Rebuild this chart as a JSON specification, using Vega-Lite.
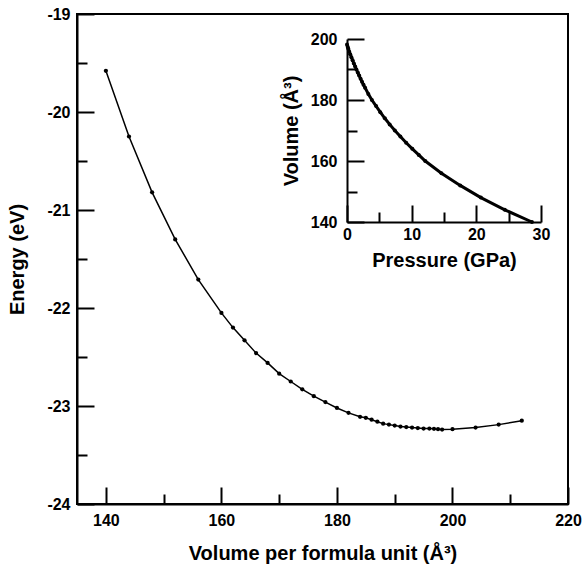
{
  "$schema": "https://vega.github.io/schema/vega-lite/v6.json",
  "width": 491,
  "height": 490,
  "autosize": "none",
  "padding": {"left": 77, "top": 14, "right": 16, "bottom": 62},
  "background": "white",
  "config": {
    "view": {"stroke": "black", "strokeWidth": 2},
    "font": "Liberation Sans",
    "axis": {
      "domainColor": "black", "domainWidth": 2,
      "tickColor": "black", "tickWidth": 2,
      "labelFont": "Liberation Sans", "labelFontWeight": "bold", "labelFontSize": 16, "labelColor": "black",
      "labelFlush": false, "labelOverlap": false,
      "titleFont": "Liberation Sans", "titleFontWeight": "bold", "titleFontSize": 20, "titleColor": "black",
      "grid": false
    }
  },
  "datasets": {
    "main": [
      {"v": 140, "e": -19.58}, {"v": 144, "e": -20.25}, {"v": 148, "e": -20.82}, {"v": 152, "e": -21.30},
      {"v": 156, "e": -21.71}, {"v": 160, "e": -22.05}, {"v": 162, "e": -22.20}, {"v": 164, "e": -22.33},
      {"v": 166, "e": -22.46}, {"v": 168, "e": -22.56}, {"v": 170, "e": -22.67}, {"v": 172, "e": -22.75},
      {"v": 174, "e": -22.83}, {"v": 176, "e": -22.90}, {"v": 178, "e": -22.96}, {"v": 180, "e": -23.02},
      {"v": 182, "e": -23.07}, {"v": 184, "e": -23.11}, {"v": 185, "e": -23.12}, {"v": 186, "e": -23.14},
      {"v": 187, "e": -23.16}, {"v": 188, "e": -23.18}, {"v": 189, "e": -23.19}, {"v": 190, "e": -23.20},
      {"v": 191, "e": -23.21}, {"v": 192, "e": -23.215}, {"v": 193, "e": -23.22}, {"v": 194, "e": -23.225},
      {"v": 195, "e": -23.23}, {"v": 196, "e": -23.23}, {"v": 196.8, "e": -23.233}, {"v": 197.5, "e": -23.236},
      {"v": 198.2, "e": -23.24}, {"v": 200, "e": -23.236}, {"v": 204, "e": -23.22}, {"v": 208, "e": -23.19},
      {"v": 212, "e": -23.15}
    ],
    "inset": [
      {"p": 28.6, "vol": 140}, {"p": 24.4, "vol": 144}, {"p": 20.7, "vol": 148}, {"p": 17.5, "vol": 152},
      {"p": 14.6, "vol": 156}, {"p": 12.1, "vol": 160}, {"p": 11.1, "vol": 162}, {"p": 10.1, "vol": 164},
      {"p": 9.15, "vol": 166}, {"p": 8.25, "vol": 168}, {"p": 7.4, "vol": 170}, {"p": 6.6, "vol": 172},
      {"p": 5.85, "vol": 174}, {"p": 5.15, "vol": 176}, {"p": 4.5, "vol": 178}, {"p": 3.85, "vol": 180},
      {"p": 3.3, "vol": 182}, {"p": 2.8, "vol": 184}, {"p": 2.55, "vol": 185}, {"p": 2.32, "vol": 186},
      {"p": 2.1, "vol": 187}, {"p": 1.88, "vol": 188}, {"p": 1.67, "vol": 189}, {"p": 1.46, "vol": 190},
      {"p": 1.26, "vol": 191}, {"p": 1.06, "vol": 192}, {"p": 0.87, "vol": 193}, {"p": 0.68, "vol": 194},
      {"p": 0.5, "vol": 195}, {"p": 0.32, "vol": 196}, {"p": 0.2, "vol": 196.8}, {"p": 0.1, "vol": 197.5},
      {"p": 0.0, "vol": 198.2}
    ]
  },
  "layer": [
    {
      "data": {"name": "main"},
      "encoding": {
        "x": {
          "field": "v", "type": "quantitative",
          "scale": {"domain": [135, 220], "nice": false, "zero": false},
          "axis": {
            "orient": "bottom",
            "title": "Volume per formula unit (Å³)",
            "values": [140, 150, 160, 170, 180, 190, 200, 210, 220],
            "tickSize": {"condition": {"test": "datum.value % 20 !== 0", "value": -10}, "value": -17},
            "labelExpr": "datum.value % 20 === 0 ? toString(datum.value) : ''",
            "labelPadding": 25,
            "titlePadding": 8
          }
        },
        "y": {
          "field": "e", "type": "quantitative",
          "scale": {"domain": [-24, -19], "nice": false, "zero": false},
          "axis": {
            "orient": "left",
            "title": "Energy (eV)",
            "values": [-24, -23.5, -23, -22.5, -22, -21.5, -21, -20.5, -20, -19.5, -19],
            "tickSize": {"condition": {"test": "datum.value % 1 !== 0", "value": -10}, "value": -17},
            "labelExpr": "datum.value % 1 === 0 ? toString(datum.value) : ''",
            "labelPadding": 24,
            "titlePadding": 19
          }
        }
      },
      "layer": [
        {"mark": {"type": "line", "color": "black", "strokeWidth": 1.5}},
        {"mark": {"type": "point", "filled": true, "color": "black", "size": 18, "opacity": 1}}
      ]
    },
    {
      "data": {"name": "inset"},
      "encoding": {
        "x": {
          "field": "p", "type": "quantitative",
          "scale": {"domain": [0, 30], "nice": false, "zero": false, "range": [270, 464]},
          "axis": {
            "orient": "bottom",
            "offset": -282,
            "title": "Pressure (GPa)",
            "values": [0, 5, 10, 15, 20, 25, 30],
            "tickSize": {"condition": {"test": "datum.value % 10 !== 0", "value": -10}, "value": -17},
            "labelExpr": "datum.value % 10 === 0 ? toString(datum.value) : ''",
            "labelPadding": 21,
            "titlePadding": 1
          }
        },
        "y": {
          "field": "vol", "type": "quantitative",
          "scale": {"domain": [140, 200], "nice": false, "zero": false, "range": [208, 25]},
          "axis": {
            "orient": "left",
            "offset": -270,
            "title": "Volume (Å³)",
            "values": [140, 150, 160, 170, 180, 190, 200],
            "tickSize": {"condition": {"test": "datum.value % 20 !== 0", "value": -10}, "value": -17},
            "labelExpr": "datum.value % 20 === 0 ? toString(datum.value) : ''",
            "labelPadding": 27,
            "titlePadding": 9
          }
        }
      },
      "layer": [
        {
          "data": {"values": [{}]},
          "mark": {"type": "rect", "fill": "white", "stroke": "black", "strokeWidth": 2},
          "encoding": {
            "x": {"datum": 0, "type": "quantitative"},
            "x2": {"datum": 30},
            "y": {"datum": 140, "type": "quantitative"},
            "y2": {"datum": 200}
          }
        },
        {"mark": {"type": "line", "color": "black", "strokeWidth": 3}},
        {"mark": {"type": "point", "filled": true, "color": "black", "size": 16, "opacity": 1}}
      ]
    }
  ],
  "resolve": {
    "scale": {"x": "independent", "y": "independent"},
    "axis": {"x": "independent", "y": "independent"}
  }
}
